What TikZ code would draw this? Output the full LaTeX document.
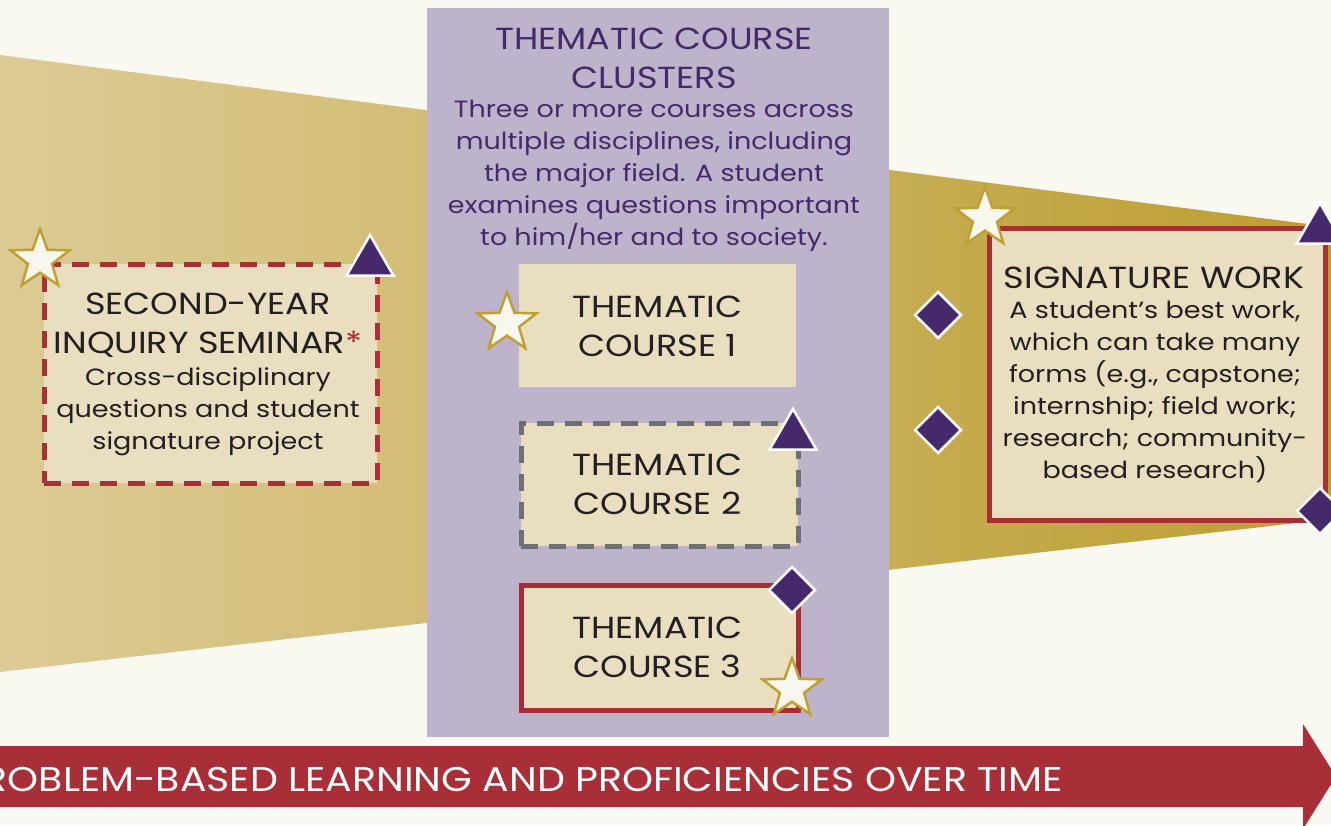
\documentclass[tikz,border=0pt]{standalone}
\usepackage{fontspec}
\setmainfont{Poppins}[FakeStretch=1.15]
\usetikzlibrary{shapes.geometric}
\definecolor{bgc}{HTML}{F9F8F1}
\definecolor{goldL}{HTML}{DDCB96}
\definecolor{goldR}{HTML}{BC9E31}
\definecolor{panel}{HTML}{BDB3CB}
\definecolor{boxfill}{HTML}{E9DFC0}
\definecolor{redc}{HTML}{A82F37}
\definecolor{purp}{HTML}{45296B}
\definecolor{grayc}{HTML}{6F6E73}
\definecolor{starfill}{HTML}{F8F7EE}
\definecolor{stargold}{HTML}{BFA035}
\definecolor{txt}{HTML}{231F20}
\tikzset{
  cbox/.style={rectangle, fill=boxfill, inner sep=0pt, anchor=north west},
  redsolid/.style={draw=redc, line width=5pt},
  reddash/.style={draw=redc, line width=4.5pt, dash pattern=on 17pt off 11pt},
  graydash/.style={draw=grayc, line width=4.5pt, dash pattern=on 17pt off 11pt},
  starmark/.style={shape=star, star points=5, star point ratio=2.45, minimum size=62pt, inner sep=0pt, fill=starfill, draw=stargold, line width=2.5pt},
  trimark/.style={shape=regular polygon, regular polygon sides=3, minimum size=54pt, inner sep=0pt, fill=purp, draw=white, line width=2.5pt},
  diamark/.style={shape=diamond, minimum width=47pt, minimum height=47pt, inner sep=0pt, fill=purp, draw=white, line width=2.5pt},
  titletext/.style={align=center, text=txt, font=\fontsize{30.5}{39}\selectfont, inner sep=0pt},
  bodytext/.style={align=center, text=txt, font=\fontsize{23.5}{32}\selectfont, inner sep=0pt},
}
\begin{document}
\begin{tikzpicture}[x=1pt,y=-1pt]
\useasboundingbox (0,0) rectangle (1331,825);
\begin{scope}
\clip (0,0) rectangle (1331,825);
\fill[bgc] (0,0) rectangle (1331,825);
% gold band
\shade[left color=goldL, right color=goldR] (0,55) -- (1331,227) -- (1331,519) -- (0,672) -- cycle;
% purple panel
\node[rectangle, fill=panel, inner sep=0pt, anchor=north west, minimum width=462pt, minimum height=729pt] (panel) at (427,8) {};
% left box
\node[cbox, reddash, minimum width=333pt, minimum height=219pt] (seminar) at (42,262) {};
\node[titletext] (seminarT) at (208,325.5) {SECOND-YEAR\\INQUIRY SEMINAR\textcolor{redc}{*}};
\node[bodytext] (seminarB) at (208,412) {Cross-disciplinary\\questions and student\\signature project};
% panel text
\node[titletext, text=purp] (panelT) at (654,58) {THEMATIC COURSE\\CLUSTERS};
\node[bodytext, text=purp] (panelB) at (654,176) {Three or more courses across\\multiple disciplines, including\\the major field. A student\\examines questions important\\to him/her and to society.};
% courses
\node[cbox, minimum width=277pt, minimum height=123pt] (c1) at (519,264) {};
\node[titletext] (c1T) at (657.5,326.5) {THEMATIC\\COURSE 1};
\node[cbox, graydash, minimum width=277pt, minimum height=123pt] (c2) at (519,421) {};
\node[titletext] (c2T) at (657.5,484.5) {THEMATIC\\COURSE 2};
\node[cbox, redsolid, minimum width=277pt, minimum height=125pt] (c3) at (519,583) {};
\node[titletext] (c3T) at (657.5,647.5) {THEMATIC\\COURSE 3};
% signature
\node[cbox, redsolid, minimum width=336pt, minimum height=292pt] (sig) at (987,226) {};
\node[titletext] (sigT) at (1154,278) {SIGNATURE WORK};
\node[bodytext] (sigB) at (1155,392) {A student’s best work,\\which can take many\\forms (e.g., capstone;\\internship; field work;\\research; community-\\based research)};
% markers
\node[starmark] (s1) at (40,260) {};
\node[trimark] (t1) at (370,262) {};
\node[starmark] (s2) at (507,323) {};
\node[trimark] (t2) at (793,436) {};
\node[diamark] (d1) at (792,590) {};
\node[starmark] (s3) at (792,689) {};
\node[starmark] (s4) at (985,218) {};
\node[trimark] (t3) at (1320,230) {};
\node[diamark] (d2) at (938,315) {};
\node[diamark] (d3) at (938,430) {};
\node[diamark] (d4) at (1320,511) {};
% arrow
\fill[redc] (-10,746) -- (1303,746) -- (1303,724) -- (1336,776.5) -- (1303,829) -- (1303,807) -- (-10,807) -- cycle;
\node[anchor=base east, text=white, font=\fontsize{34.3}{40}\selectfont, inner sep=0pt] (arrowT) at (1063,791) {PROBLEM-BASED LEARNING AND PROFICIENCIES OVER TIME};
\end{scope}
\end{tikzpicture}
\end{document}
